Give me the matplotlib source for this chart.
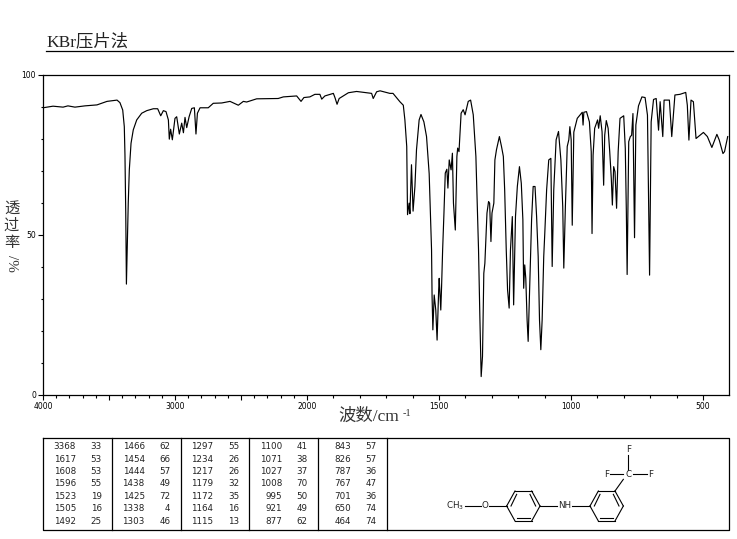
import numpy as np
import matplotlib
matplotlib.use('Agg')
import matplotlib.pyplot as plt
from matplotlib.ticker import FixedLocator, FixedFormatter

wavenumber = [4000,3924,3848,3811,3758,3682,3591,3515,3439,3417,3396,3384,3379,3373,3368,3359,3354,3346,3333,3316,
    3290,3252,3214,3164,3131,3108,3088,3068,3050,3043,3033,3020,3000,2987,2967,2949,2936,2924,2911,2893,
    2873,2853,2841,2830,2810,2748,2710,2646,2583,2520,2482,2457,2381,2218,2179,2078,2045,2023,1989,1970,
    1951,1944,1932,1900,1894,1886,1878,1843,1812,1755,1749,1736,1723,1686,1674,1648,1635,1629,1622,1619,
    1613,1610,1604,1598,1591,1585,1575,1568,1557,1547,1537,1528,1526,1523,1518,1512,1507,1501,1499,1493,
    1490,1486,1481,1476,1470,1466,1461,1454,1449,1445,1438,1432,1429,1424,1416,1408,1401,1389,1380,1370,
    1360,1350,1345,1340,1335,1330,1326,1318,1312,1308,1303,1299,1292,1288,1282,1271,1263,1256,1251,1245,
    1240,1234,1229,1222,1217,1210,1203,1195,1188,1182,1179,1175,1171,1166,1162,1156,1149,1143,1136,1130,
    1124,1119,1114,1109,1103,1099,1092,1084,1076,1071,1065,1056,1047,1038,1031,1027,1021,1014,1008,1004,
    999,995,989,976,957,954,951,941,930,923,920,916,910,899,895,889,882,876,872,866,
    859,853,847,843,838,833,827,821,814,800,794,790,787,781,775,770,765,759,754,744,
    731,719,710,702,696,687,677,668,662,652,647,637,627,618,606,587,565,559,553,545,
    536,526,517,498,483,466,447,438,424,418,406]
transmittance = [89.6,90.1,89.8,90.2,89.8,90.2,90.5,91.6,92.0,91.2,88.9,83.7,74.9,56.7,34.5,50,59.9,70.2,78.5,82.7,
    85.8,87.9,88.7,89.3,89.3,87.1,88.7,88.4,85.8,79.8,82.9,79.6,86.3,86.8,81.4,84.8,81.8,86.6,83.4,86.8,
    89.4,89.6,81.4,87.9,89.6,89.6,91,91.1,91.6,90.4,91.6,91.4,92.4,92.5,93.0,93.3,91.6,92.8,93,93.8,
    93.8,92.3,93.3,94.1,92.8,90.7,92.5,94.3,94.7,94.1,92.5,94.6,94.9,94.1,94.1,91.5,90.4,85.8,77.5,56.2,
    59.8,56.5,71.8,57.3,65,76.5,85.8,87.5,85.2,80.6,69,45.2,30.6,20.2,31.1,26.4,17,32.7,36.3,26.4,
    33.7,45.2,56.7,69.2,70.4,64.5,73.3,70.2,75.4,59.8,51.4,74.4,77,75.9,87.9,89,87.4,91.6,92,87.4,
    74.4,45.2,24.4,5.6,11.9,37.9,41,56.7,60.3,59.8,47.8,56.7,59.8,73.3,76.5,80.6,77.5,74.4,64,45.2,
    32.7,27,45.2,55.6,28,55.6,65,71.2,66,54.6,33.2,40.5,36.3,23.3,16.6,33.7,54.6,65,65,55.6,
    43.1,23.3,14,23.3,43.1,50.4,64,73.3,73.8,40,64,79.6,82.2,73.3,58.7,39.5,58.7,77.5,79.6,83.7,
    79.6,52.9,82,86.3,88.2,84.2,88.2,88.4,85.2,75.9,50.3,74.8,83.2,85.8,83.2,87.1,82.1,65.4,81,85.6,
    83.2,75.9,67.5,59.2,71.2,69.6,58.2,75.9,86.3,87.1,76.9,57.1,37.5,79,80.6,81,87.8,49,84.2,90.2,
    93,92.8,87.3,37.3,85.2,92.2,92.5,82.6,91.5,80.6,92,92,92,80.6,93.6,93.8,94.4,90.4,79.5,92,
    91.5,80,80.6,81.9,80.6,77.2,81.3,79.5,75.3,75.9,80.6]

x_ticks = [4000,3500,3000,2500,2000,1500,1000,500]
x_labels = ['4000','','3000','','2000','1500','1000','500']
x_minor = [w for w in range(500,4000,100) if w % 500 != 0]
y_ticks = [0,50,100]
y_minor = [10,20,30,40,60,70,80,90]

peak_wn = ['3368','1617','1608','1596','1523','1505','1492',
           '1466','1454','1444','1438','1425','1338','1303',
           '1297','1234','1217','1179','1172','1164','1115',
           '1100','1071','1027','1008','995','921','877',
           '843','826','787','767','701','650','464']
peak_t = ['33','53','53','55','19','16','25',
          '62','66','57','49','72','4','46',
          '55','26','26','32','35','16','13',
          '41','38','37','70','50','49','62',
          '57','57','36','47','36','74','74']

W, H = 737, 539
cjk = ['Liberation Serif', 'Noto Sans CJK SC', 'DejaVu Sans']

fig = plt.figure(figsize=(W/100, H/100), dpi=100)


# axis is twice as wide per cm-1 below 2000
def forward(w):
    w = np.asarray(w, dtype=float)
    return np.where(w > 2000, 2000+(w-2000)*0.5, w)


def inverse(p):
    p = np.asarray(p, dtype=float)
    return np.where(p > 2000, 2000+(p-2000)*2, p)


ax = fig.add_axes([43/W, 1-394.5/H, 685.5/W, 320/H])
ax.set_xscale('function', functions=(forward, inverse))
ax.plot(wavenumber, transmittance, color='k', lw=0.85)
ax.set_xlim(4000, 403)
ax.set_ylim(0, 100)
ax.xaxis.set_major_locator(FixedLocator(x_ticks))
ax.xaxis.set_major_formatter(FixedFormatter(x_labels))
ax.xaxis.set_minor_locator(FixedLocator(x_minor))
ax.xaxis.set_minor_formatter(FixedFormatter([]))
ax.yaxis.set_major_locator(FixedLocator(y_ticks))
ax.yaxis.set_minor_locator(FixedLocator(y_minor))
ax.yaxis.set_minor_formatter(FixedFormatter([]))
ax.tick_params(axis='both', which='major', length=3.6, width=0.8, labelsize=5.5, pad=1.5)
ax.tick_params(axis='both', which='minor', length=1.8, width=0.8)
for s in ax.spines.values():
    s.set_linewidth(0.9)

# overlay in picture pixels for title, labels, table and structure
ov = fig.add_axes([0, 0, 1, 1], facecolor='none')
ov.set_xlim(0, W)
ov.set_ylim(H, 0)
ov.axis('off')

ov.text(46, 42, 'KBr压片法', family=cjk, fontsize=12.5, ha='left', va='center', color='#222222')
ov.plot([46, 733], [50.5, 50.5], color='k', lw=0.9)

for y, ch in zip([209, 226, 243], '透过率'):
    ov.text(11.5, y, ch, family=cjk, fontsize=11, ha='center', va='center', color='#333333')
ov.text(11.5, 263, '/%', family=cjk, fontsize=11, rotation=-90, ha='center', va='center', color='#333333')
ov.text(338, 417, '波数/cm', family=cjk, fontsize=12.5, ha='left', va='center', color='#333333')
ov.text(403, 413, '-1', family=cjk, fontsize=7.5, ha='left', va='center', color='#333333')

# peak table
ov.plot([43, 729, 729, 43, 43], [438, 438, 530, 530, 438], color='k', lw=0.9)
for x in [112, 180.7, 249.3, 318, 386.7]:
    ov.plot([x, x], [438, 530], color='k', lw=0.9)
for i in range(len(peak_wn)):
    col, row = i//7, i % 7
    y = 446.7+row*12.4
    ov.text(76+col*68.7, y, peak_wn[i], fontsize=6.3, ha='right', va='center', color='#222222')
    ov.text(101.7+col*68.7, y, peak_t[i], fontsize=6.3, ha='right', va='center', color='#222222')


# structure, coordinates from the crop
def bond(x0, y0, x1, y1):
    ov.plot([430+x0/3, 430+x1/3], [435+y0/3, 435+y1/3], color='k', lw=0.8)


def atom(x, y, s):
    ov.text(430+x/3, 435+y/3, s, fontsize=6.3, ha='center', va='center', color='#222222')


for dx in [0, 250]:
    xs = [230+dx, 255+dx, 305+dx, 330+dx, 305+dx, 255+dx, 230+dx]
    ys = [213, 168, 168, 213, 258, 258, 213]
    for i in range(6):
        bond(xs[i], ys[i], xs[i+1], ys[i+1])
    bond(243+dx, 213, 260+dx, 178)
    bond(300+dx, 178, 317+dx, 213)
    bond(260+dx, 250, 300+dx, 250)

bond(105, 213, 152, 213)
bond(178, 213, 230, 213)
bond(330, 213, 382, 213)
bond(425, 213, 480, 213)
bond(555, 168, 580, 133)
bond(540, 118, 580, 118)
bond(610, 118, 650, 118)
bond(595, 60, 595, 105)
atom(75, 213, 'CH$_3$')
atom(165, 213, 'O')
atom(403, 213, 'NH')
atom(595, 118, 'C')
atom(530, 118, 'F')
atom(662, 118, 'F')
atom(595, 45, 'F')

fig.savefig('out.png', dpi=100)
